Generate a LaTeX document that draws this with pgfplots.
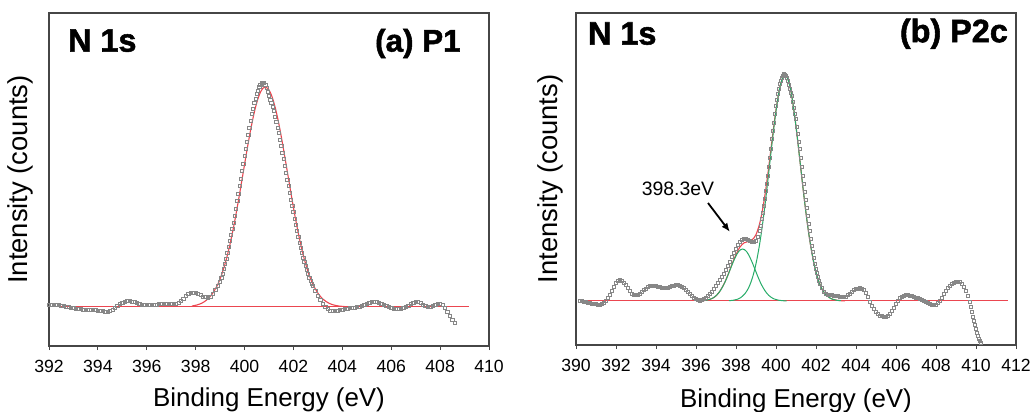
\documentclass[border=0pt]{standalone}
\usepackage{fontspec}
\setmainfont{Liberation Sans}
\newfontfamily\heavyfont[BoldFeatures={FakeBold=1.6}]{Liberation Sans}
\usepackage{pgfplots}
\pgfplotsset{compat=1.18}
\usetikzlibrary{arrows.meta}
\definecolor{fitred}{RGB}{235,70,80}
\definecolor{fitgreen}{RGB}{40,172,105}
\definecolor{datagray}{RGB}{135,135,135}
\definecolor{framegray}{RGB}{70,70,70}

\pgfplotstableread{
x y
392.0 41
392.1 41
392.2 41.5
392.3 41
392.4 41
392.5 40.5
392.6 40
392.7 39.5
392.8 39
392.9 38.5
393.0 38
393.1 37.5
393.2 37
393.3 37
393.4 36.5
393.5 36
393.6 36
393.7 36
393.8 36
393.9 36
394.0 35.5
394.1 35.5
394.2 35
394.3 34.5
394.4 34
394.5 35
394.6 36
394.7 38
394.8 40
394.9 42
395.0 43
395.1 44.5
395.2 45
395.3 45
395.4 44.5
395.5 44
395.6 43
395.7 42
395.8 41.5
395.9 41
396.0 41
396.1 41
396.2 41
396.3 41.5
396.4 41.5
396.5 42
396.6 42
396.7 42
396.8 42
396.9 42
397.0 42
397.1 42
397.2 42.5
397.3 43.5
397.4 45
397.5 47.5
397.6 50
397.7 52
397.8 53
397.9 53.5
398.0 53
398.1 52
398.2 51
398.3 49.5
398.4 49
398.5 48.5
398.6 49.5
398.7 52
398.8 56
398.9 60
399.00 64
399.05 68
399.10 72
399.15 77
399.20 82
399.25 87
399.30 93
399.35 99
399.40 105
399.45 111
399.50 117
399.55 123.5
399.60 130
399.65 137.5
399.70 145
399.75 152.5
399.80 160
399.85 167.5
399.90 175
399.95 182.5
400.00 190
400.05 197
400.10 204
400.15 211
400.20 218
400.25 225
400.30 232
400.35 237.5
400.40 243
400.45 247.5
400.50 252
400.55 255.5
400.60 259
400.65 261.5
400.70 263
400.75 263.5
400.80 263
400.85 261
400.90 258
400.95 254.5
401.00 250
401.05 246.5
401.10 243
401.15 239
401.20 235
401.25 229.5
401.30 224
401.35 218.5
401.40 213
401.45 206.5
401.50 200
401.55 193.5
401.60 187
401.65 180
401.70 173
401.75 166.5
401.80 160
401.85 153
401.90 146
401.95 140
402.00 134
402.05 127.5
402.10 121
402.15 115
402.20 109
402.25 103.5
402.30 98
402.35 93
402.40 88
402.45 84
402.50 80
402.55 76
402.60 72
402.65 68.5
402.70 65
402.75 62.5
402.80 60
402.90 55
403.00 50
403.10 46
403.20 42
403.30 39
403.40 37
403.50 35.5
403.60 35
403.70 35
403.80 35.5
403.90 36
404.0 36.5
404.1 37
404.2 37.5
404.3 38
404.4 38.5
404.5 38.5
404.6 39
404.7 39.5
404.8 40
404.9 41
405.0 42
405.1 43
405.2 44
405.3 44.5
405.4 44
405.5 43
405.6 42
405.7 41
405.8 40
405.9 39
406.0 38
406.1 37.5
406.2 37
406.3 37
406.4 37.5
406.5 38
406.6 39
406.7 40.5
406.8 42
406.9 43
407.0 44
407.1 44
407.2 43
407.3 41.5
407.4 40
407.5 39.5
407.6 39.5
407.7 40
407.8 41
407.9 42
408.0 42
408.1 41
408.2 38
408.3 34
408.4 30
408.5 26
408.6 23
}\dataA

\pgfplotstableread{
x y
397.85 40.0
398.05 41.0
398.25 42.8
398.45 46.0
398.65 51.1
398.85 59.0
398.95 64.2
399.05 70.5
399.15 77.9
399.25 86.4
399.35 96.0
399.45 106.9
399.55 118.8
399.65 131.7
399.75 145.5
399.85 159.8
399.95 174.3
400.05 188.8
400.15 202.9
400.25 216.3
400.35 228.4
400.45 238.8
400.55 247.4
400.65 253.8
400.75 257.7
400.85 259
400.95 257.7
401.05 253.8
401.15 247.4
401.25 238.8
401.35 228.4
401.45 216.3
401.55 202.9
401.65 188.8
401.75 174.3
401.85 159.8
401.95 145.5
402.05 131.7
402.15 118.8
402.25 106.9
402.35 96.0
402.45 86.4
402.55 77.9
402.65 70.5
402.75 64.2
402.85 59.0
403.05 51.1
403.25 46.0
403.45 42.8
403.65 41.0
403.85 40.0
404.15 39.3
}\fitA

\pgfplotstableread{
x y
390.2 44.5
390.3 44
390.4 43.5
390.5 43
390.6 42.5
390.7 42
390.8 41.5
390.9 41
391.0 41
391.1 40.5
391.2 40.5
391.3 41.5
391.4 42.5
391.5 44
391.6 47
391.7 50.5
391.8 54
391.9 58.5
392.0 62.5
392.1 64.5
392.2 65
392.3 64
392.4 62.5
392.5 60
392.6 57
392.7 54
392.8 51.5
392.9 50.5
393.0 50
393.1 50.5
393.2 51.5
393.3 53
393.4 55
393.5 56.5
393.6 58
393.7 59
393.8 59.5
393.9 59.5
394.0 59
394.1 58.5
394.2 58
394.3 57.5
394.4 57
394.5 57
394.6 57.5
394.7 58.5
394.8 59
394.9 59.5
395.0 60
395.1 60
395.2 59.5
395.3 58.5
395.4 57
395.5 55.5
395.6 53.5
395.7 51.5
395.8 49.5
395.9 47.5
396.0 46
396.1 45
396.2 44.5
396.3 45
396.4 46
396.5 47.5
396.6 49
396.7 51
396.8 53.5
396.9 56.5
397.0 59.5
397.1 62
397.2 65
397.3 68
397.4 71
397.5 75
397.6 79
397.7 83.5
397.8 88
397.9 92
398.0 96
398.1 100
398.2 103
398.3 105
398.4 106
398.5 106
398.6 105.5
398.7 104.5
398.8 103.5
398.9 103
399.0 104
399.1 108
399.2 114
399.25 119
399.3 126
399.35 132
399.4 139
399.45 146
399.5 154
399.55 161
399.6 169
399.65 178
399.7 187
399.75 196
399.8 206
399.85 214
399.9 222
399.95 231
400.0 239
400.05 245
400.1 251
400.15 256
400.2 261
400.25 264.5
400.3 267.5
400.35 269.5
400.4 271
400.45 270.5
400.5 269
400.55 267
400.6 264
400.65 260
400.7 256
400.75 252.5
400.8 249
400.85 243
400.9 237
400.95 231.5
401.0 226
401.05 218.5
401.1 211
401.15 203.5
401.2 196
401.25 187
401.3 178
401.35 169.5
401.4 161
401.45 153
401.5 145
401.55 137
401.6 129
401.65 121.5
401.7 114
401.75 106.5
401.8 99
401.85 93
401.9 87
401.95 81.5
402.0 76
402.05 72
402.1 68
402.15 64.5
402.2 61
402.3 57
402.4 53
402.5 51
402.6 50
402.7 50
402.8 50
402.9 49.5
403.0 49.5
403.1 49
403.2 48.5
403.3 48
403.4 48
403.5 48.5
403.6 50
403.7 51.5
403.8 53.5
403.9 55
404.0 56
404.1 56.5
404.2 57
404.3 56.5
404.4 55.5
404.5 52
404.6 48
404.7 43.5
404.8 39.5
404.9 36
405.0 33
405.1 31
405.2 29.5
405.3 29
405.4 28.5
405.5 28.5
405.6 29.5
405.7 31
405.8 34
405.9 37.5
406.0 41
406.1 44.5
406.2 47
406.3 48.5
406.4 49.5
406.5 50
406.6 50
406.7 49.5
406.8 49
406.9 48
407.0 47.5
407.1 47
407.2 46
407.3 45
407.4 44.5
407.5 43.5
407.6 42
407.7 41
407.8 40.5
407.9 40
408.0 40.5
408.1 42
408.2 44.5
408.3 47.5
408.4 51
408.5 54.5
408.6 57.5
408.7 59.5
408.8 61
408.9 62
409.0 63
409.1 63.5
409.2 63
409.3 61
409.4 58
409.5 54.5
409.6 49
409.7 43
409.75 38
409.8 33
409.85 28.5
409.9 24.5
409.95 20
410.0 16
410.05 12.5
410.1 9.5
410.15 6.5
410.2 4
410.25 2
}\dataB

\pgfplotstableread{
x y
396.0 44.1
396.2 44.2
396.4 44.4
396.6 45.1
396.8 46.5
397.0 49.1
397.2 54.0
397.4 61.1
397.6 70.2
397.8 80.9
398.0 90.5
398.2 98.0
398.4 102.1
398.6 103.5
398.8 105.0
399.0 110.4
399.2 122.8
399.4 143.8
399.6 172.2
399.8 204.6
400.0 235.4
400.2 258.7
400.4 269.7
400.55 268
400.65 262.4
400.75 253.3
400.85 241.1
400.95 226.4
401.05 210.1
401.15 192.6
401.25 174.7
401.35 157
401.45 140
401.55 124.2
401.65 109.8
401.75 97.2
401.85 86.2
401.95 76.9
402.05 69.2
402.15 63.0
402.25 58.1
402.35 54.3
402.45 51.4
402.65 47.6
402.85 45.6
403.05 44.7
403.25 44.3
403.45 44.1
}\envB

\pgfplotstableread{
x y
397.65 44.3
397.85 44.7
398.05 45.6
398.25 47.6
398.45 51.4
398.55 54.3
398.65 58.1
398.75 63.0
398.85 69.2
398.95 76.9
399.05 86.2
399.15 97.2
399.25 109.8
399.35 124.2
399.45 140
399.55 157
399.65 174.7
399.75 192.6
399.85 210.1
399.95 226.4
400.05 241.1
400.15 253.3
400.25 262.4
400.35 268
400.45 270
400.55 268
400.65 262.4
400.75 253.3
400.85 241.1
400.95 226.4
401.05 210.1
401.15 192.6
401.25 174.7
401.35 157
401.45 140
401.55 124.2
401.65 109.8
401.75 97.2
401.85 86.2
401.95 76.9
402.05 69.2
402.15 63.0
402.25 58.1
402.35 54.3
402.45 51.4
402.65 47.6
402.85 45.6
403.05 44.7
403.25 44.3
}\gOneB

\pgfplotstableread{
x y
396.13 44.1
396.33 44.3
396.53 44.8
396.73 45.9
396.83 46.8
396.93 48.1
397.03 49.8
397.13 52.0
397.23 54.8
397.33 58.2
397.43 62.1
397.53 66.6
397.63 71.5
397.73 76.6
397.83 81.6
397.93 86.2
398.03 90.3
398.13 93.4
398.23 95.3
398.33 96
398.43 95.3
398.53 93.4
398.63 90.3
398.73 86.2
398.83 81.6
398.93 76.6
399.03 71.5
399.13 66.6
399.23 62.1
399.33 58.2
399.43 54.8
399.53 52.0
399.63 49.8
399.73 48.1
399.83 46.8
399.93 45.9
400.13 44.8
400.33 44.3
400.53 44.1
}\gTwoB

\pgfplotsset{
  xpsaxis/.style={
    scale only axis, width=440bp,
    ymin=0, ytick=\empty,
    axis line style={framegray, line width=1.3bp},
    xtick pos=left,
    tick align=outside,
    major tick length=4bp,
    xtick style={framegray, line width=1bp},
    ticklabel style={font=\fontsize{17.7}{20}\selectfont},
    /pgf/number format/assume math mode=true,
    xticklabel style={/pgf/number format/1000 sep={}, yshift=-7bp},
    xlabel style={font=\fontsize{26}{30}\selectfont},
    ylabel style={font=\fontsize{27.5}{32}\selectfont},
    datamark/.style={only marks, mark=square, mark size=1.65bp,
      mark options={draw=datagray, line width=0.65bp}},
  }
}

\begin{document}
\begin{tikzpicture}
\useasboundingbox (0,0) rectangle (1032bp,412bp);
% ---------- panel (a) ----------
\begin{axis}[xpsaxis, at={(49bp,66bp)}, anchor=south west,
  height=333bp, ymax=333,
  xmin=392, xmax=410, xtick={392,394,...,410},
  xlabel={Binding Energy (eV)}, ylabel={Intensity (counts)},
  xlabel style={at={(axis description cs:0.5,-0.183)}, anchor=base},
  ylabel style={at={(axis description cs:-0.066,0.5)}, anchor=center}]
\addplot[datamark] table {\dataA};
\addplot[draw=fitred, line width=1bp] coordinates {(392,39.3) (409.2,39.3)};
\addplot[draw=fitred, line width=1.1bp, smooth] table {\fitA};
\node[anchor=base west, inner sep=0, font=\fontsize{32.5}{36}\selectfont\heavyfont\bfseries]
  at (axis description cs:0.043,0.884) {N 1s};
\node[anchor=base east, inner sep=0, font=\fontsize{31.5}{36}\selectfont\heavyfont\bfseries]
  at (axis description cs:0.936,0.884) {(a) P1};
\end{axis}
% ---------- panel (b) ----------
\begin{axis}[xpsaxis, at={(576bp,67bp)}, anchor=south west,
  height=332bp, ymax=332,
  xmin=390, xmax=412, xtick={390,392,...,412},
  xlabel={Binding Energy (eV)}, ylabel={Intensity (counts)},
  xlabel style={at={(axis description cs:0.5,-0.187)}, anchor=base},
  ylabel style={at={(axis description cs:-0.059,0.5)}, anchor=center}]
\addplot[datamark] table {\dataB};
\addplot[draw=fitred, line width=1bp] coordinates {(390.2,44) (411.6,44)};
\addplot[draw=fitred, line width=1.1bp, smooth] table {\envB};
\addplot[draw=fitgreen, line width=1bp, smooth] table {\gOneB};
\addplot[draw=fitgreen, line width=1bp, smooth] table {\gTwoB};
\node[anchor=center, inner sep=0, font=\fontsize{19.5}{22}\selectfont]
  at (axis cs:395.1,156) {398.3eV};
\draw[line width=1.8bp, -{Latex[length=9bp,width=7bp]}]
  (axis cs:396.6,142) -- (axis cs:397.7,113);
\node[anchor=base west, inner sep=0, font=\fontsize{32.5}{36}\selectfont\heavyfont\bfseries]
  at (axis description cs:0.027,0.905) {N 1s};
\node[anchor=base east, inner sep=0, font=\fontsize{32.5}{36}\selectfont\heavyfont\bfseries]
  at (axis description cs:0.982,0.912) {(b) P2c};
\end{axis}
\end{tikzpicture}
\end{document}
